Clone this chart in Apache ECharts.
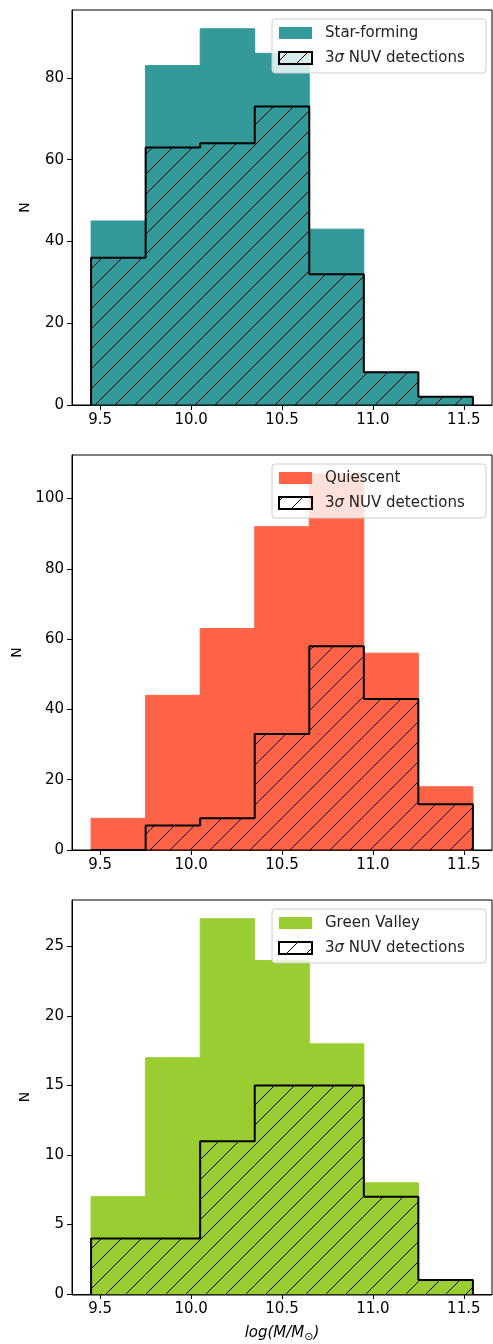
<!DOCTYPE html>
<html><head><meta charset="utf-8">
<script src="https://cdn.jsdelivr.net/npm/echarts@6/dist/echarts.min.js"></script>
<style>body{margin:0;background:#fff}#c{width:493px;height:1344px}</style>
</head><body><div id="c"></div>
<script>
var edges = [9.45, 9.75, 10.05, 10.35, 10.65, 10.95, 11.25, 11.55];
var xTicks = [9.5, 10.0, 10.5, 11.0, 11.5];
var sfAll = [45, 83, 92, 86, 43, 8, 2];
var sfNuv = [36, 63, 64, 73, 32, 8, 2];
var qAll = [9, 44, 63, 92, 107, 56, 18];
var qNuv = [0, 7, 9, 33, 58, 43, 13];
var gvAll = [7, 17, 27, 24, 18, 8, 1];
var gvNuv = [4, 4, 11, 15, 15, 7, 1];

var panels = [
    {name: "Star-forming", color: "#339999", all: sfAll, nuv: sfNuv, top: 10, max: 96.6, interval: 20},
    {name: "Quiescent", color: "#ff6347", all: qAll, nuv: qNuv, top: 455, max: 112.4, interval: 20},
    {name: "Green Valley", color: "#9acd32", all: gvAll, nuv: gvNuv, top: 900, max: 28.35, interval: 5}
];

// hatch pattern "/"
function makeHatch() {
    var s = 20, cv = document.createElement("canvas");
    cv.width = s; cv.height = s;
    var ctx = cv.getContext("2d");
    ctx.strokeStyle = "#000"; ctx.lineWidth = 1;
    ctx.beginPath();
    ctx.moveTo(0, s); ctx.lineTo(s, 0);
    ctx.moveTo(-s / 2, s / 2); ctx.lineTo(s / 2, -s / 2);
    ctx.moveTo(s / 2, s * 1.5); ctx.lineTo(s * 1.5, s / 2);
    ctx.stroke();
    return cv;
}
var hatch = makeHatch();
var font = "DejaVu Sans";

function stepLine(vals) {
    var pts = [[edges[0], 0]];
    for (var i = 0; i < vals.length; i++) {
        pts.push([edges[i], vals[i]]);
        pts.push([edges[i + 1], vals[i]]);
    }
    pts.push([edges[edges.length - 1], 0]);
    return pts;
}

function barData(vals) {
    return vals.map(function(v, i) { return [edges[i], edges[i + 1], v]; });
}

function renderRect(fill, stroke) {
    return function(params, api) {
        var p0 = api.coord([api.value(0), api.value(2)]);
        var p1 = api.coord([api.value(1), 0]);
        return {
            type: "rect",
            shape: {x: p0[0], y: p0[1], width: p1[0] - p0[0], height: p1[1] - p0[1]},
            style: {fill: fill, stroke: stroke, lineWidth: stroke ? 1 : 0}
        };
    };
}

var grids = [], xAxes = [], yAxes = [], series = [], graphics = [];
panels.forEach(function(p, k) {
    grids.push({left: 72, top: p.top, width: 420, height: 395});
    xAxes.push({
        type: "value", gridIndex: k, min: 9.345, max: 11.655,
        axisLine: {show: true, onZero: false, lineStyle: {color: "#000"}},
        splitLine: {show: false},
        axisLabel: {color: "#000", fontSize: 15, fontFamily: font, margin: 8,
            customValues: xTicks, formatter: function(v) { return v.toFixed(1); }},
        axisTick: {show: true, customValues: xTicks, length: 5, lineStyle: {color: "#000"}},
        name: k === 2 ? "{i|log(M/M}{s|⊙}{i|)}" : "",
        nameLocation: "middle", nameGap: 30,
        nameTextStyle: {rich: {i: {fontStyle: "italic", fontSize: 15, fontFamily: font, color: "#000"},
            s: {fontSize: 11, fontFamily: font, color: "#000", verticalAlign: "bottom", padding: [8, 0, 0, 0]}}}
    });
    yAxes.push({
        type: "value", gridIndex: k, min: 0, max: p.max, interval: p.interval,
        axisLine: {show: true, lineStyle: {color: "#000"}},
        axisTick: {show: true, length: 5, lineStyle: {color: "#000"}},
        splitLine: {show: false},
        axisLabel: {color: "#000", fontSize: 15, fontFamily: font, margin: 8,
            showMaxLabel: false},
        name: "N", nameLocation: "middle", nameGap: 40,
        nameTextStyle: {color: "#000", fontSize: 14, fontFamily: font}
    });
    series.push({type: "custom", xAxisIndex: k, yAxisIndex: k, data: barData(p.all),
        renderItem: renderRect(p.color, p.color), silent: true, z: 1});
    series.push({type: "custom", xAxisIndex: k, yAxisIndex: k, data: barData(p.nuv),
        renderItem: renderRect({image: hatch, repeat: "repeat"}, null), silent: true, z: 2});
    series.push({type: "line", xAxisIndex: k, yAxisIndex: k, data: stepLine(p.nuv),
        symbol: "none", lineStyle: {color: "#000", width: 2}, silent: true, z: 3});
    // top/right frame
    graphics.push({type: "rect", shape: {x: 72, y: p.top, width: 420, height: 395},
        style: {fill: null, stroke: "#000", lineWidth: 1}, z: 10, silent: true});
    // legend
    var lx = 272, ly = p.top + 9;
    graphics.push({type: "rect", shape: {x: lx, y: ly, width: 214, height: 54, r: 3},
        style: {fill: "rgba(255,255,255,0.8)", stroke: "#ccc", lineWidth: 1}, z: 20});
    graphics.push({type: "rect", shape: {x: lx + 7, y: ly + 8, width: 33, height: 12},
        style: {fill: p.color}, z: 21});
    graphics.push({type: "rect", shape: {x: lx + 7, y: ly + 33, width: 33, height: 12},
        style: {fill: {image: hatch, repeat: "repeat"}, stroke: "#000", lineWidth: 2}, z: 21});
    graphics.push({type: "text", x: lx + 53, y: ly + 14, z: 21,
        style: {text: p.name, fill: "#222", font: "15px " + font, verticalAlign: "middle"}});
    graphics.push({type: "text", x: lx + 53, y: ly + 39, z: 21,
        style: {text: "3{s|σ} NUV detections", fill: "#222", font: "15px " + font, verticalAlign: "middle",
            rich: {s: {fontStyle: "italic", fontSize: 15, fontFamily: font, fill: "#222"}}}});
});

var chart = echarts.init(document.getElementById("c"));
chart.setOption({
    animation: false,
    grid: grids, xAxis: xAxes, yAxis: yAxes, series: series, graphic: graphics
});
</script></body></html>
